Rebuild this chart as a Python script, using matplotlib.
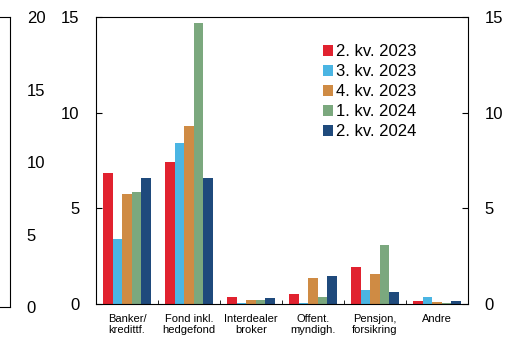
import numpy as np
import matplotlib
matplotlib.use("Agg")
from matplotlib import pyplot as plt

plt.rcParams['font.family'] = ['Liberation Sans', 'DejaVu Sans']

categories = ["Banker/\nkredittf.", "Fond inkl.\nhedgefond", "Interdealer\nbroker",
              "Offent.\nmyndigh.", "Pensjon,\nforsikring", "Andre"]
series_names = ["2. kv. 2023", "3. kv. 2023", "4. kv. 2023", "1. kv. 2024", "2. kv. 2024"]
q2_2023 = [6.85, 7.41, 0.35, 0.52, 1.91, 0.17]
q3_2023 = [3.39, 8.43, 0.05, 0.05, 0.75, 0.38]
q4_2023 = [5.76, 9.30, 0.21, 1.34, 1.57, 0.12]
q1_2024 = [5.86, 14.71, 0.21, 0.38, 3.08, 0.07]
q2_2024 = [6.57, 6.57, 0.31, 1.46, 0.63, 0.14]
colors = ["#E1222F", "#4AB5E3", "#CF8B44", "#7BA87E", "#1F4A7C"]

series = [q2_2023, q3_2023, q4_2023, q1_2024, q2_2024]

fig = plt.figure(figsize=(5.07, 3.40), dpi=100)

# cropped neighbour panel at the left edge
axl = fig.add_axes([-0.5, 0.097, 0.5197, 0.853])
axl.set_ylim(0, 20)
axl.set_yticks([0, 5, 10, 15, 20])
axl.set_xticks([])
axl.yaxis.tick_right()
axl.tick_params(axis='y', direction='in', length=0, pad=12, labelsize=12)
for s in axl.spines.values():
    s.set_linewidth(0.8)

ax = fig.add_axes([0.1893, 0.1059, 0.7337, 0.8441])
x = np.arange(len(categories))
w = 0.153
for i, (vals, name, c) in enumerate(zip(series, series_names, colors)):
    ax.bar(x + (i - 2) * w, vals, width=w, color=c, label=name)

ax.set_xlim(-0.5, len(categories) - 0.5)
ax.set_ylim(0, 15)
ax.set_yticks([0, 5, 10, 15])
ax.set_xticks(x)
ax.set_xticklabels(categories, fontsize=8, linespacing=1.2)
ax.set_xticks(np.arange(0.5, len(categories) - 1, 1), minor=True)
ax.tick_params(axis='x', which='major', length=0, pad=7)
ax.tick_params(axis='x', which='minor', direction='in', length=3)
ax.tick_params(axis='y', direction='in', length=4, pad=12, labelsize=12,
               right=True, labelright=True)
for s in ax.spines.values():
    s.set_linewidth(0.8)

ax.legend(loc='upper left', bbox_to_anchor=(0.61, 0.905), frameon=False, fontsize=12,
          handlelength=0.6, handleheight=0.6, handletextpad=0.2, labelspacing=0.3,
          borderaxespad=0, borderpad=0)

fig.savefig("out.png", dpi=100)
